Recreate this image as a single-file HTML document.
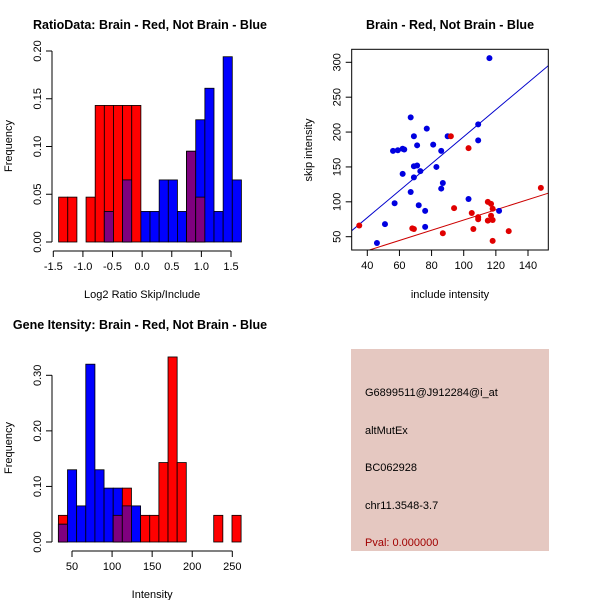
<!DOCTYPE html>
<html><head><meta charset="utf-8"><style>
body{margin:0;background:#fff}
svg{display:block;font-family:"Liberation Sans",sans-serif}
</style></head><body>
<svg id="c" width="600" height="600" xmlns="http://www.w3.org/2000/svg">
<rect width="600" height="600" fill="#fff"/>
<g id="p1"></g>
<g id="p2"></g>
<g id="p3"></g>
<g>
<rect x="351" y="349" width="198" height="202" fill="#e5c8c1"/>
<text x="365" y="396" font-size="11" fill="#000">G6899511@J912284@i_at</text>
<text x="365" y="434" font-size="11" fill="#000">altMutEx</text>
<text x="365" y="471" font-size="11" fill="#000">BC062928</text>
<text x="365" y="509" font-size="11" fill="#000">chr11.3548-3.7</text>
<text x="365" y="546" font-size="11" fill="#a00000">Pval: 0.000000</text>
</g>
</svg>
<script>
// ---- Plot 1 data: log2 ratio histogram
const ratioBinStart = -1.41;
const ratioBinWidth = 0.1543;
const ratioRed  = [0.047,0.047,0,0.047,0.143,0.143,0.143,0.143,0.143,0,0,0,0,0,0.095,0.047,0,0,0,0];
const ratioBlue = [0,0,0,0,0,0.032,0,0.065,0,0.032,0.032,0.065,0.065,0.032,0.095,0.128,0.161,0.032,0.194,0.065];
const ratioXTicks = [-1.5,-1.0,-0.5,0.0,0.5,1.0,1.5];
const ratioYTicks = [0.00,0.05,0.10,0.15,0.20];
// ---- Plot 2 data: scatter
const blueX = [67,69,77,90,56,59,62,63,71,81,86,69,71,73,83,62,69,67,86,87,57,72,76,76,51,46,116,109,109,103,122];
const blueY = [221,194,205,194,173,174,176,175,181,182,173,151,152,144,150,140,135,114,119,127,98,95,87,64,68,41,306,211,188,104,87];
const redX = [35,92,103,148,94,105,109,109,115,117,118,117,115,118,106,128,118,87,68,69];
const redY = [66,194,177,120,91,84,78,75,100,97,90,80,73,74,61,58,44,55,62,61];
const blueFit = [0.0, 1.934];  // intercept, slope
const redFit = [0.7, 0.732];
const scatXTicks = [40,60,80,100,120,140];
const scatYTicks = [50,100,150,200,250,300];
// ---- Plot 3 data: gene intensity histogram
const intBinStart = 33;
const intBinWidth = 11.4;
const intRed  = [0.048,0,0,0,0,0,0.048,0.097,0,0.048,0.048,0.143,0.333,0.143,0,0,0,0.048,0,0.048];
const intBlue = [0.032,0.13,0.065,0.32,0.13,0.097,0.097,0.065,0.065,0,0,0,0,0,0,0,0,0,0,0];
const intXTicks = [50,100,150,200,250];
const intYTicks = [0.00,0.10,0.20,0.30];

const NS="http://www.w3.org/2000/svg";
function mk(parent,tag,attrs,text){
  const e=document.createElementNS(NS,tag);
  for(const k in attrs)e.setAttribute(k,attrs[k]);
  if(text!==undefined)e.textContent=text;
  parent.appendChild(e);return e;
}
function lin(d0,d1,r0,r1){return v=>r0+(v-d0)*(r1-r0)/(d1-d0);}

function histogram(g,o){
  const sx=o.sx, sy=o.sy;
  const n=o.red.length;
  for(let i=0;i<n;i++){
    const x0=sx(o.start+i*o.width), x1=sx(o.start+(i+1)*o.width);
    const r=o.red[i], b=o.blue[i], m=Math.min(r,b);
    if(r>0){const e=mk(g,'rect',{x:x0,y:sy(r),width:x1-x0,height:sy(0)-sy(r),fill:'#ff0000',stroke:'#000','stroke-width':0.8});
      
      }
    if(b>0){const e=mk(g,'rect',{x:x0,y:sy(b),width:x1-x0,height:sy(0)-sy(b),fill:'#0000ff',stroke:'#000','stroke-width':0.8});
      
      }
    if(m>0){const e=mk(g,'rect',{x:x0,y:sy(m),width:x1-x0,height:sy(0)-sy(m),fill:'#7f007f',stroke:'#000','stroke-width':0.8});
      
      }
  }
}
function xAxis(g,sx,ticks,y,fmt,label,ly){
  const ax=mk(g,'g',{});
  
  
  mk(ax,'line',{x1:sx(ticks[0]),x2:sx(ticks[ticks.length-1]),y1:y,y2:y,stroke:'#000'});
  ticks.forEach(t=>{mk(ax,'line',{x1:sx(t),x2:sx(t),y1:y,y2:y+6,stroke:'#000'});
    const tx=mk(ax,'text',{x:sx(t),y:y+19,'font-size':11,'text-anchor':'middle'},fmt(t));
    
    });
  const l=mk(g,'text',{x:(sx(ticks[0])+sx(ticks[ticks.length-1]))/2,y:ly,'font-size':11,'text-anchor':'middle'},label);
  
  
}
function yAxis(g,sy,ticks,x,fmt,label,lx,cy){
  const ax=mk(g,'g',{});
  
  
  mk(ax,'line',{x1:x,x2:x,y1:sy(ticks[0]),y2:sy(ticks[ticks.length-1]),stroke:'#000'});
  ticks.forEach(t=>{mk(ax,'line',{x1:x-6,x2:x,y1:sy(t),y2:sy(t),stroke:'#000'});
    const tx=mk(ax,'text',{x:x-11,y:sy(t),'font-size':11,'text-anchor':'middle',transform:`rotate(-90 ${x-11} ${sy(t)})`},fmt(t));
    
    });
  const l=mk(g,'text',{x:lx,y:cy,'font-size':11,'text-anchor':'middle',transform:`rotate(-90 ${lx} ${cy})`},label);
  
  
}
function title(g,x,y,t){
  const e=mk(g,'text',{x:x,y:y,'font-size':12.5,'font-weight':'bold','text-anchor':'middle'},t);
  
  
}

// Plot 1
(function(){
  const g=document.getElementById('p1');
  const sx=lin(-1.5,1.5,53.3,231), sy=lin(0,0.2,242,51);
  histogram(g,{sx,sy,start:ratioBinStart,width:ratioBinWidth,red:ratioRed,blue:ratioBlue});
  xAxis(g,sx,ratioXTicks,251,t=>t.toFixed(1),'Log2 Ratio Skip/Include',298);
  yAxis(g,sy,ratioYTicks,52,t=>t.toFixed(2),'Frequency',12,146);
  title(g,150,29,'RatioData: Brain - Red, Not Brain - Blue');
})();

// Plot 2
(function(){
  const g=document.getElementById('p2');
  const sx=lin(40,140,367.3,528), sy=lin(50,300,236.7,62.3);
  const L=351.7,R=548.3,T=49.3,B=250;
  const clip=mk(g,'clipPath',{id:'cp2'});mk(clip,'rect',{x:L,y:T,width:R-L,height:B-T});
  const x0=30.4,x1=152.6;
  const lb=mk(g,'line',{x1:sx(x0),y1:sy(blueFit[0]+blueFit[1]*x0),x2:sx(x1),y2:sy(blueFit[0]+blueFit[1]*x1),stroke:'#0000cc','stroke-width':1,'clip-path':'url(#cp2)'});
  
  
  const lr=mk(g,'line',{x1:sx(x0),y1:sy(redFit[0]+redFit[1]*x0),x2:sx(x1),y2:sy(redFit[0]+redFit[1]*x1),stroke:'#cc0000','stroke-width':1,'clip-path':'url(#cp2)'});
  
  
  blueX.forEach((v,i)=>{const c=mk(g,'circle',{cx:sx(v),cy:sy(blueY[i]),r:3,fill:'#0000e0'});
    
    });
  redX.forEach((v,i)=>{const c=mk(g,'circle',{cx:sx(v),cy:sy(redY[i]),r:3,fill:'#e00000'});
    
    });
  const f=mk(g,'rect',{x:L,y:T,width:R-L,height:B-T,fill:'none',stroke:'#000'});
  
  
  scatXTicks.forEach(t=>{mk(g,'line',{x1:sx(t),x2:sx(t),y1:B,y2:B+6,stroke:'#000'});
    const tx=mk(g,'text',{x:sx(t),y:B+19,'font-size':11,'text-anchor':'middle'},t);
    
    });
  scatYTicks.forEach(t=>{mk(g,'line',{x1:L-6,x2:L,y1:sy(t),y2:sy(t),stroke:'#000'});
    const tx=mk(g,'text',{x:L-11,y:sy(t),'font-size':11,'text-anchor':'middle',transform:`rotate(-90 ${L-11} ${sy(t)})`},t);
    
    });
  const xl=mk(g,'text',{x:450,y:298,'font-size':11,'text-anchor':'middle'},'include intensity');
  
  
  const yl=mk(g,'text',{x:312,y:150,'font-size':11,'text-anchor':'middle',transform:'rotate(-90 312 150)'},'skip intensity');
  
  
  title(g,450,29,'Brain - Red, Not Brain - Blue');
})();

// Plot 3
(function(){
  const g=document.getElementById('p3');
  const sx=lin(50,250,72,232.3), sy=lin(0,0.3,542,375.3);
  histogram(g,{sx,sy,start:intBinStart,width:intBinWidth,red:intRed,blue:intBlue});
  xAxis(g,sx,intXTicks,551,t=>t,'Intensity',598);
  yAxis(g,sy,intYTicks,52,t=>t.toFixed(2),'Frequency',12,448);
  title(g,140,329,'Gene Itensity: Brain - Red, Not Brain - Blue');
})();
</script>
</body></html>
